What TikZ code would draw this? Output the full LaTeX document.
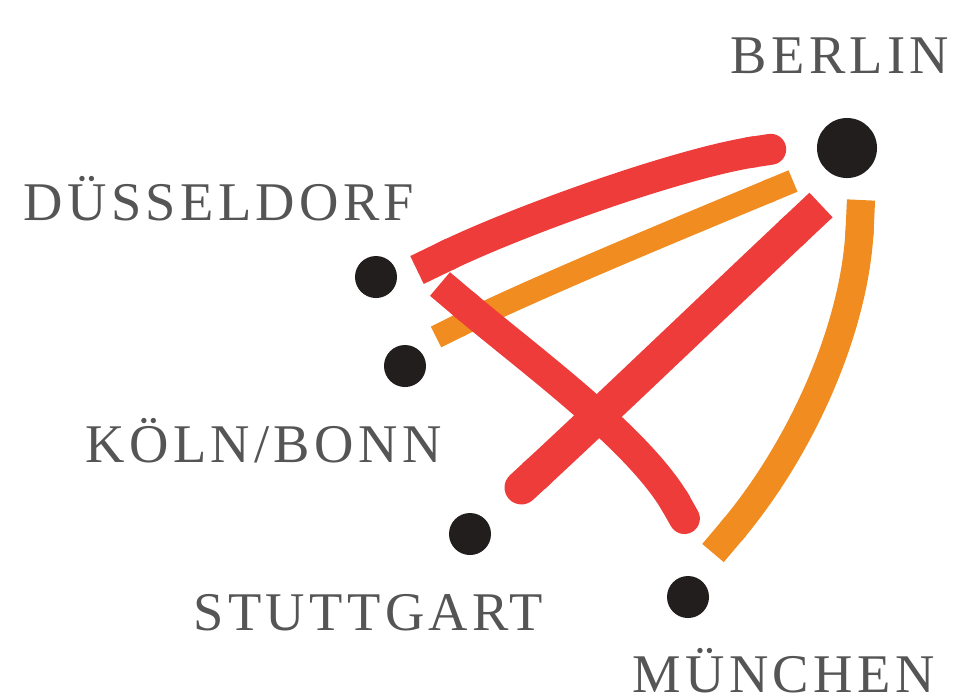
\documentclass[tikz,border=0pt]{standalone}
\usepackage{fontspec}
\setmainfont{Liberation Serif}
\newfontfamily\cityfont[LetterSpace=8]{Liberation Serif}
\usetikzlibrary{arrows.meta}
\definecolor{myred}{RGB}{238,60,58}
\definecolor{myorange}{RGB}{240,140,32}
\definecolor{mydot}{RGB}{35,30,30}
\definecolor{mytext}{RGB}{85,85,85}

\begin{document}
\begin{tikzpicture}[x=0.01cm,y=-0.01cm,
  citydot/.style={circle,fill=mydot,inner sep=0pt,minimum size=0.42cm},
  citylbl/.style={anchor=base west,inner sep=0pt,text=mytext,
    font=\cityfont\fontsize{15.5}{18}\selectfont}]
  \useasboundingbox (0,0) rectangle (955,699);
  % the five airports
  \node[citydot,minimum size=0.6cm] (berlin) at (847,148) {};
  \node[citydot] (dus)   at (376,277) {};
  \node[citydot] (koeln) at (405,366) {};
  \node[citydot] (stgt)  at (470,534) {};
  \node[citydot] (muc)   at (688,597) {};
  \node[citylbl] (berlinlbl) at (730,73)  {BERLIN};
  \node[citylbl] (duslbl)    at (23,220)  {DÜSSELDORF};
  \node[citylbl] (koelnlbl)  at (85,462)  {KÖLN/BONN};
  \node[citylbl] (stgtlbl)   at (193,630) {STUTTGART};
  \node[citylbl] (muclbl)    at (632,692) {MÜNCHEN};
  % free ends of the routes, set off from the dots
  \coordinate (db1) at (417,270); \coordinate (db2) at (786,147);
  \coordinate (kb1) at (436,337); \coordinate (kb2) at (793,181);
  \coordinate (dm1) at (440,284); \coordinate (dm2) at (692,532);
  \coordinate (sb1) at (509,499); \coordinate (sb2) at (821,205);
  \coordinate (mb1) at (713,553); \coordinate (mb2) at (861,200);
  % orange routes below, red ones on top
  \draw[myorange,line width=6.6pt,{Butt Cap}-{Butt Cap}] (kb1)
    .. controls (530,290) and (680,228) .. (kb2);
  \draw[myorange,line width=8pt,{Butt Cap}-{Butt Cap}] (mb1)
    .. controls (800,450) and (855,330) .. (mb2);
  \draw[myred,line width=8.8pt,{Butt Cap}-{Round Cap}] (db1)
    .. controls (520,220) and (680,163) .. (db2);
  \draw[myred,line width=8.8pt,{Butt Cap}-{Round Cap}] (dm1)
    .. controls (530,360) and (640,440) .. (dm2);
  \draw[myred,line width=9.6pt,{Round Cap}-{Butt Cap}] (sb1)
    .. controls (600,415) and (720,300) .. (sb2);
\end{tikzpicture}
\end{document}
